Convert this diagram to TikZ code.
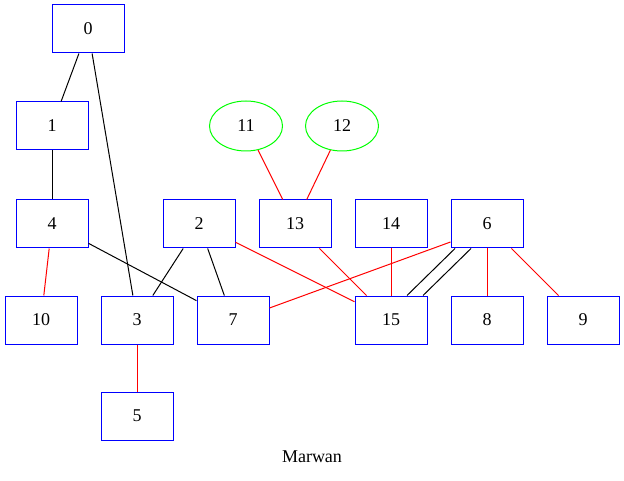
\documentclass[tikz,border=0pt]{standalone}
\usepackage{fontspec}
\setmainfont{Liberation Serif}
\usetikzlibrary{shapes.geometric}
\begin{document}
\begin{tikzpicture}[x=1pt,y=-1pt,
  box/.style={draw=blue, line width=1pt, rectangle, minimum width=72pt, minimum height=48pt, inner sep=0pt, font=\fontsize{18}{20}\selectfont},
  oval/.style={draw=green, line width=1pt, ellipse, minimum width=73pt, minimum height=50pt, inner sep=0pt, font=\fontsize{18}{20}\selectfont},
  bl/.style={draw=black, line width=1pt},
  rd/.style={draw=red, line width=1pt}]
\useasboundingbox (0,0) rectangle (624,481);
\node[box] (n0) at (88,29) {0};
\node[box] (n1) at (52,126) {1};
\node[box] (n4) at (52,224) {4};
\node[box] (n10) at (41,320) {10};
\node[box] (n3) at (137,320) {3};
\node[box] (n5) at (137,416) {5};
\node[box] (n2) at (199,224) {2};
\node[box] (n7) at (233,320) {7};
\node[oval] (n11) at (246,126) {11};
\node[oval] (n12) at (342,126) {12};
\node[box] (n13) at (295,224) {13};
\node[box] (n14) at (391,224) {14};
\node[box] (n6) at (487,224) {6};
\node[box] (n15) at (391,320) {15};
\node[box] (n8) at (487,320) {8};
\node[box] (n9) at (583,320) {9};
\node[font=\fontsize{18}{20}\selectfont] (title) at (312,457) {Marwan};
\draw[bl] (n0) -- (n1);
\draw[bl] (n0) -- (n3);
\draw[bl] (n1) -- (n4);
\draw[rd] (n4) -- (n10);
\draw[bl] (n4) -- (n7);
\draw[rd] ([xshift=0.5pt]n3.south) -- ([xshift=0.5pt]n5.north);
\draw[bl] (n2) -- (n3);
\draw[bl] (n2) -- (n7);
\draw[rd] (n2) -- (n15);
\draw[rd] (n11) -- (n13);
\draw[rd] (n12) -- (n13);
\draw[rd] (n13) -- (n15);
\draw[rd] ([xshift=0.5pt]n14.south) -- ([xshift=0.5pt]n15.north);
\draw[bl] ([xshift=-32pt]n6.south) -- ([xshift=16pt]n15.north);
\draw[bl] ([xshift=-16pt]n6.south) -- ([xshift=32pt]n15.north);
\draw[rd] ([yshift=-18pt]n6.west) -- ([yshift=12pt]n7.east);
\draw[rd] ([xshift=0.5pt]n6.south) -- ([xshift=0.5pt]n8.north);
\draw[rd] (n6) -- (n9);
\end{tikzpicture}
\end{document}
